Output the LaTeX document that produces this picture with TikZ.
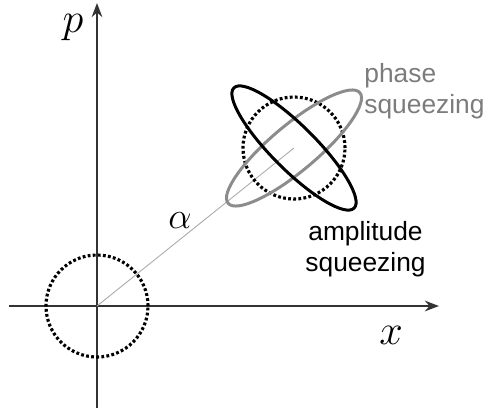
\RequirePackage{fix-cm}
\documentclass[tikz,border=0pt]{standalone}
\usepackage{fontspec}
\usepackage{tikz}
\usetikzlibrary{arrows.meta}
\newfontfamily\sqzfont{Liberation Sans}
\definecolor{axisgray}{HTML}{333333}
\definecolor{phasegray}{HTML}{8C8C8C}
\definecolor{phasetext}{HTML}{7C7C7C}
\definecolor{radialgray}{HTML}{AAAAAA}

\begin{document}
\begin{tikzpicture}[
  axis/.style={draw=axisgray, line width=1.5pt, -{Stealth[length=8pt,width=6pt]}},
  vacuum/.style={draw=black, line width=1.8pt, dash pattern=on 1.6pt off 1.3pt},
  squeezed/.style={line width=1.7pt},
  sqzlabel/.style={font=\sqzfont\fontsize{15}{17.5}\selectfont, inner sep=0pt, align=center},
  axlabel/.style={font=\fontsize{24}{28}\selectfont, inner sep=0pt}
]
  \useasboundingbox (-1.94,-2.18) rectangle (7.82,6.12);

  % ---- phase space axes ----
  \coordinate (O) at (0,0);
  \coordinate (xstart) at (-1.76,0);
  \coordinate (xend) at (6.84,0);
  \coordinate (pstart) at (0,-2.04);
  \coordinate (pend) at (0,6.06);
  \draw[axis] (xstart) -- (xend);
  \draw[axis] (pstart) -- (pend);
  \node[axlabel] (plabel) at (-0.48,5.56) {$p$};
  \node[axlabel] (xlabel) at (5.88,-0.58) {$x$};

  % ---- vacuum state at the origin ----
  \draw[vacuum] (O) circle (1.02cm);

  % ---- displaced coherent state ----
  \coordinate (C) at (3.94,3.16);
  \draw[radialgray, line width=0.5pt] (O) -- (C);
  \node[font=\fontsize{21}{24}\selectfont, inner sep=0pt] (alphalabel) at (1.66,1.70) {$\alpha$};
  \draw[vacuum] (C) circle (1.02cm);

  % phase squeezed (long along alpha)
  \draw[squeezed, phasegray, rotate around={40:(C)}] (C) ellipse (1.72cm and 0.46cm);
  % amplitude squeezed (long across alpha)
  \draw[squeezed, black, rotate around={-45:(C)}] (C) ellipse (1.70cm and 0.44cm);

  % ---- labels ----
  \node[sqzlabel, phasetext, anchor=west, align=left] (phaselabel) at (5.34,4.30) {phase\\squeezing};
  \node[sqzlabel, black] (amplabel) at (5.37,1.14) {amplitude\\squeezing};

\end{tikzpicture}
\end{document}
